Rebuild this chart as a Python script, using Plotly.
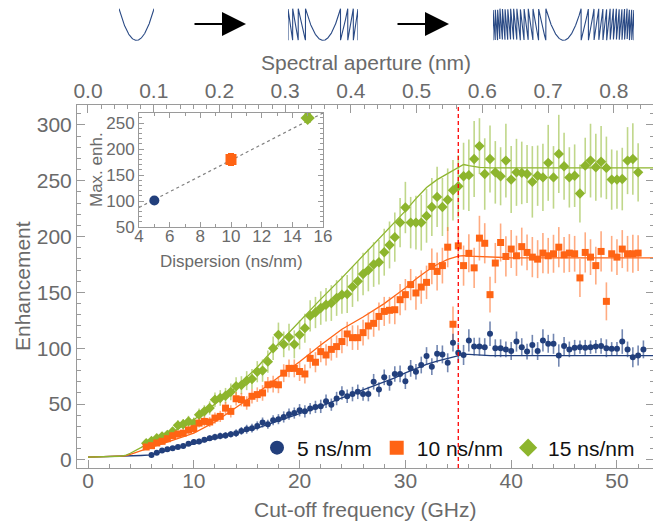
import plotly.graph_objects as go
import numpy as np

# ---------------- data ----------------
blue_x = [6.0, 6.5, 7.0, 7.5, 8.0, 8.5, 9.0, 9.5, 10.0, 10.5, 11.0, 11.5, 12.0, 12.5, 13.0, 13.5,
          14.0, 14.5, 15.0, 15.5, 16.0, 16.5, 17.0, 17.5, 18.0, 18.5, 19.0, 19.5, 20.0, 20.5, 21.0,
          21.5, 22.0, 22.5, 23.0, 23.5, 24.0, 24.5, 25.0, 25.5, 26.0, 26.5, 27.0, 27.5, 28.0, 28.5,
          29.0, 29.5, 30.0, 30.5, 31.0, 31.5, 32.0, 32.5, 33.0, 33.5, 34.0, 34.5, 35.0, 35.5, 36.0,
          36.5, 37.0, 37.5, 38.0, 38.5, 39.0, 39.5, 40.0, 40.5, 41.0, 41.5, 42.0, 42.5, 43.0, 43.5,
          44.0, 44.5, 45.0, 45.5, 46.0, 46.5, 47.0, 47.5, 48.0, 48.5, 49.0, 49.5, 50.0, 50.5, 51.0,
          51.5, 52.0, 52.5]
blue_y = [4.5, 6.5, 8.5, 9.5, 10.5, 11.5, 12.5, 14.5, 16, 16.5, 18, 19.5, 20.5, 21.5, 22, 23,
          24, 26, 27.5, 28.5, 30.5, 33.5, 32, 35.5, 36.5, 38.5, 41, 42, 44.5, 43.5, 46,
          47.5, 48, 52.5, 49.5, 55, 60, 57, 59, 61, 59, 59, 70, 63, 74, 69,
          77, 77, 70.5, 82, 79, 85, 93, 83.5, 95, 94.5, 87, 105, 96, 94, 107,
          101.5, 101.5, 101, 113, 100, 100, 99, 97.5, 106, 101, 97, 103, 97.5, 107, 104,
          104, 93.5, 102, 99, 100.5, 101, 100.5, 101, 101.5, 102, 100, 99.5, 99.5, 106, 99,
          92, 93.5, 99]
blue_err = [1.5, 1.5, 2, 2, 2, 2, 2, 2, 2.5, 2.5,
            2.5, 2.5, 3, 3, 3, 3, 3.5, 3.5, 4, 4,
            4, 4.5, 4, 4.5, 4.5, 5, 5, 5, 5.5, 5.5,
            5, 5.5, 6, 6, 5.5, 6, 6, 6, 6.5, 6.5,
            6, 6.5, 7, 6.5, 7, 7, 7, 7.5, 7, 7.5,
            7, 7.5, 8, 7.5, 8, 8, 8.5, 8, 9, 9,
            10, 8, 8, 8, 11, 8, 8, 7, 8, 9,
            8, 7, 9, 8, 10, 8, 9, 10, 8, 7,
            7, 6, 7, 6, 6, 7, 8, 6, 6, 11,
            7, 9, 9, 8]

orange_x = [5.5, 6.0, 6.5, 7.0, 7.5, 8.0, 8.5, 9.0, 9.5, 10.0, 10.5, 11.0, 11.5, 12.0, 12.5, 13.0,
            13.5, 14.0, 14.5, 15.0, 15.5, 16.0, 16.5, 17.0, 17.5, 18.0, 18.5, 19.0, 19.5, 20.0,
            20.5, 21.0, 21.5, 22.0, 22.5, 23.0, 23.5, 24.0, 24.5, 25.0, 25.5, 26.0, 26.5, 27.0,
            27.5, 28.0, 28.5, 29.0, 29.5, 30.0, 30.5, 31.0, 31.5, 32.0, 32.5, 33.0, 33.5, 34.0,
            34.5, 35.0, 35.5, 36.0, 36.5, 37.0, 37.5, 38.0, 38.5, 39.0, 39.5, 40.0, 40.5, 41.0,
            41.5, 42.0, 42.5, 43.0, 43.5, 44.0, 44.5, 45.0, 45.5, 46.0, 46.5, 47.0, 47.5, 48.0,
            48.5, 49.0, 49.5, 50.0, 50.5, 51.0, 51.5, 52.0]
orange_y = [11.6, 12.8, 15.2, 16.7, 19, 21.7, 23.2, 24, 26.8, 28, 33, 34.5, 34, 37.5, 39, 46.4,
            43.5, 54.8, 54, 51, 57, 58.5, 60, 67.3, 68, 67.3, 77.7, 82, 82, 79.2,
            77, 91, 87.5, 97, 94, 99, 101.5, 106, 112.8, 109.5, 109.5, 114, 120, 122.3,
            128.5, 133, 134, 134.5, 143.5, 148, 157, 149.5, 154.8, 159, 173.3, 168.8, 174, 190.5,
            121.5, 191.7, 174, 185, 172, 198.6, 194, 148, 176.3, 194.7, 182.2, 188.8, 182.8, 191,
            185.8, 181.6, 179.8, 185.2, 182.8, 184.6, 190.5, 183.7, 185.2, 184.6, 163, 185.8, 181.6, 174,
            186.7, 142, 184.6, 181.6, 188.8, 184.6, 184.6, 185.2]
orange_err = [2, 2, 2.5, 2.5, 3, 3, 3, 3.5, 3.5, 4,
              4, 4.5, 4.5, 5, 5, 5.5, 5.5, 6, 6, 6,
              6.5, 6.5, 7, 7, 7.5, 7.5, 8, 8, 8, 8.5,
              8.5, 9, 9, 9.5, 9.5, 10, 10, 10.5, 11, 11,
              11, 11.5, 12, 12, 12.5, 13, 12, 13, 14, 14,
              14, 15, 15, 15, 16, 17, 16, 18, 16, 17,
              18, 17, 18, 20, 18, 16, 18, 17, 18, 17,
              18, 17, 16, 18, 17, 18, 16, 17, 18, 16,
              17, 16, 17, 18, 16, 17, 18, 17, 16, 16,
              17, 16, 17, 16]

green_x = [5.5, 6.0, 6.5, 7.0, 7.5, 8.0, 8.5, 9.0, 9.5, 10.0, 10.5, 11.0, 11.5, 12.0, 12.5, 13.0,
           13.5, 14.0, 14.5, 15.0, 15.5, 16.0, 16.5, 17.0, 17.5, 18.0, 18.5, 19.0, 19.5, 20.0,
           20.5, 21.0, 21.5, 22.0, 22.5, 23.0, 23.5, 24.0, 24.5, 25.0, 25.5, 26.0, 26.5, 27.0,
           27.5, 28.0, 28.5, 29.0, 29.5, 30.0, 30.5, 31.0, 31.5, 32.0, 32.5, 33.0, 33.5, 34.0,
           34.5, 35.0, 35.5, 36.0, 36.5, 37.0, 37.5, 38.0, 38.5, 39.0, 39.5, 40.0, 40.5, 41.0,
           41.5, 42.0, 42.5, 43.0, 43.5, 44.0, 44.5, 45.0, 45.5, 46.0, 46.5, 47.0, 47.5, 48.0,
           48.5, 49.0, 49.5, 50.0, 50.5, 51.0, 51.5, 52.0]
green_y = [15, 17, 19.5, 21, 22.5, 25.5, 31, 32, 34.5, 33, 40.5, 43.5, 46.5, 54, 55.5, 57.5,
           61, 66, 67, 71, 72.5, 79, 80, 88, 100, 112, 103.5, 110, 103.5, 112,
           118, 129, 132, 136, 139, 140.5, 145, 148, 148.5, 155, 160, 166.5, 170, 175,
           177, 186, 192.5, 199.5, 212.5, 226, 212.5, 212.5, 212.5, 218.5, 226.5, 235.5, 226.5, 233,
           241.5, 245, 254, 255, 269.5, 281, 256, 269.5, 257.5, 254, 268, 251, 257.5, 257,
           256, 249, 254.5, 253, 266, 253, 274, 263, 253, 254.5, 238.5, 263.5, 268, 262,
           267, 261.5, 251, 251, 251.5, 268, 269.5, 257.5]
green_err = [3, 3, 3.5, 3.5, 4, 4, 4.5, 4.5, 5, 5,
             5.5, 5.5, 6, 6.5, 7, 7, 7.5, 8, 8, 8.5,
             9, 9.5, 10, 10, 10.5, 11, 11.5, 12, 12.5, 13,
             13, 14, 14, 15, 15, 16, 16, 17, 17, 18,
             18, 19, 19, 20, 20, 21, 21, 22, 22, 23,
             23, 24, 25, 24, 26, 27, 26, 28, 27, 28,
             30, 32, 34, 25, 32, 30, 28, 26, 33, 30,
             30, 28, 26, 32, 27, 30, 34, 28, 35, 30,
             27, 28, 26, 25, 33, 30, 32, 28, 27, 26,
             28, 30, 32, 26]

# theory curves
line_x = [0, 1, 2, 3, 3.5, 4, 5, 6, 7, 8, 10, 12, 14, 16, 18, 20, 22, 24, 26, 28, 29, 30, 31,
          32, 33, 34, 35, 35.5, 36, 37, 38, 40, 45, 50, 53.5]
blue_line = [2.5, 2.7, 3, 3.3, 3.5, 3.7, 4, 4.5, 7.5, 10, 14.5, 19, 23.5, 28.5, 35, 41.5, 48,
             55.5, 62.5, 69.5, 73.5, 78, 82, 85.5, 88.5, 91, 93.5, 94.5, 94.5, 94, 93.5, 93.5,
             93.5, 93.5, 93.5]
orange_line = [2.5, 2.7, 3, 3.3, 3.6, 5, 8.5, 11.5, 14.5, 17.5, 24, 34, 47, 60, 74, 88, 103,
               117, 128, 140, 147, 154, 162, 169, 175, 179.5, 182.5, 183, 182.5, 182, 181.5,
               181, 181, 181, 181]
green_line = [2.5, 2.7, 3, 3.3, 4, 6, 11, 16.5, 21, 25, 36, 50, 65, 83, 104, 124, 144, 163,
              183, 203, 213, 223, 234, 244, 251, 256.5, 261.5, 264.5, 263.5, 262, 261.5, 261.5,
              261.5, 261.5, 261.5]

cutoff_ghz = 35

# inset
disp = [5, 10, 15]
max_enh = [101, 180, 260]
max_err = [4, 11, 8]
fit_x = [4, 16]
fit_y = [87.5, 269.5]

legend_names = ["5 ns/nm", "10 ns/nm", "15 ns/nm"]

# ---------------- style ----------------
BLUE = "#223f7c"
ORANGE = "#ff6414"
GREEN = "#8db52d"
BLUE_E = "rgba(40,70,135,0.65)"
ORANGE_E = "rgba(255,115,45,0.6)"
GREEN_E = "rgba(150,188,60,0.6)"
FRAME = "#9a9a9a"
TXT = "#6a6a6a"
FONT = "Liberation Sans"

# page body has an 8px margin: figure is drawn 8px right/down of the window origin
OFF = 8
W, H = 661 - OFF, 521 - OFF
ML, MR, MT, MB = 77 - OFF, 7, 0, 53
PW = W - ML - MR      # 577
PH = H - MT - MB      # 460


def px(x):   # reference-window x pixel -> paper fraction
    return (x - OFF - ML) / PW


def py(y):   # reference-window y pixel -> paper fraction
    return (PH + MT - (y - OFF)) / PH


fig = go.Figure()

# theory lines
for ly, c in [(blue_line, BLUE), (orange_line, ORANGE), (green_line, GREEN)]:
    fig.add_trace(go.Scatter(x=line_x, y=ly, mode="lines", line=dict(color=c, width=1.3),
                             showlegend=False, hoverinfo="skip"))

# data points
for xs, ys, es, c, ec, sym, sz in [
    (green_x, green_y, green_err, GREEN, GREEN_E, "diamond", 8),
    (orange_x, orange_y, orange_err, ORANGE, ORANGE_E, "square", 7),
    (blue_x, blue_y, blue_err, BLUE, BLUE_E, "circle", 6),
]:
    fig.add_trace(go.Scatter(x=xs, y=ys, mode="markers",
                             marker=dict(color=c, symbol=sym, size=sz, line=dict(width=0)),
                             error_y=dict(type="data", array=es, color=ec, thickness=1.6, width=0),
                             showlegend=False))

# legend-only entries
for name, c, sym in [(legend_names[0], BLUE, "circle"), (legend_names[1], ORANGE, "square"),
                     (legend_names[2], GREEN, "diamond")]:
    fig.add_trace(go.Scatter(x=[None], y=[None], mode="markers", name=name,
                             marker=dict(color=c, symbol=sym, size=14, line=dict(width=0))))

# invisible trace for top axis
fig.add_trace(go.Scatter(x=[0], y=[0], xaxis="x2", yaxis="y", mode="lines",
                         showlegend=False, hoverinfo="skip"))

# inset
fig.add_trace(go.Scatter(x=fit_x, y=fit_y, mode="lines", xaxis="x3", yaxis="y3",
                         line=dict(color="#808080", width=1.2, dash="3px,3px"), showlegend=False))
for i, (c, sym, sz) in enumerate([(BLUE, "circle", 10), (ORANGE, "square", 11), (GREEN, "diamond", 11)]):
    fig.add_trace(go.Scatter(x=[disp[i]], y=[max_enh[i]], mode="markers", xaxis="x3", yaxis="y3",
                             marker=dict(color=c, symbol=sym, size=sz, line=dict(width=0)),
                             error_y=dict(type="data", array=[max_err[i]], color=c, thickness=1.5, width=3),
                             showlegend=False))

# icons (schematic quadratic phase, wrapped)
ICON = "#2a4a85"
icon_half = [1.0, 2.0, 4.0]
for k, a in enumerate(icon_half):
    t = np.linspace(-a, a, 1400 if k > 0 else 200)
    v = np.where(np.abs(t) <= 1, t ** 2, np.mod(t ** 2, 1.0))
    fig.add_trace(go.Scatter(x=t, y=v, mode="lines", xaxis=f"x{k+4}", yaxis=f"y{k+4}",
                             line=dict(color=ICON, width=1.1), showlegend=False, hoverinfo="skip"))

axis_common = dict(showgrid=False, zeroline=False, showline=True, linecolor=FRAME, linewidth=1,
                   ticks="inside", tickcolor=FRAME, tickwidth=1, automargin=False,
                   tickfont=dict(family=FONT, size=21, color=TXT))
inset_font = dict(family=FONT, size=17, color=TXT)

fig.update_layout(
    width=W, height=H,
    margin=dict(l=ML, r=MR, t=MT, b=MB),
    paper_bgcolor="white", plot_bgcolor="white",
    font=dict(family=FONT, color=TXT),
    xaxis=dict(domain=[0, 1], range=[-1.04, 53.5], tickvals=[0, 10, 20, 30, 40, 50], ticklen=8,
               minor=dict(ticks="inside", dtick=2, ticklen=4, tickcolor=FRAME), anchor="y",
               ticklabelstandoff=-6, **axis_common),
    xaxis2=dict(overlaying="x", side="top", anchor="y", range=[-0.0167, 0.861],
                tickvals=[0, 0.1, 0.2, 0.3, 0.4, 0.5, 0.6, 0.7, 0.8], tickformat=".1f", ticklen=8,
                minor=dict(ticks="inside", dtick=0.02, ticklen=4, tickcolor=FRAME),
                ticklabelstandoff=-2, **axis_common),
    yaxis=dict(domain=[0, py(105)], range=[-7.2, 317.8], tickvals=[0, 50, 100, 150, 200, 250, 300],
               ticklen=8, mirror="ticks", anchor="x",
               minor=dict(ticks="inside", dtick=10, ticklen=4, tickcolor=FRAME), **axis_common),
    xaxis3=dict(domain=[px(139), px(323)], range=[4, 16], tickvals=[4, 6, 8, 10, 12, 14, 16],
                anchor="y3", mirror="ticks", ticklen=5, ticklabelstandoff=-6,
                minor=dict(ticks="inside", dtick=1, ticklen=3, tickcolor=FRAME),
                **{**axis_common, "tickfont": inset_font}),
    yaxis3=dict(domain=[py(227), py(113)], range=[50, 269.5], tickvals=[50, 100, 150, 200, 250],
                anchor="x3", mirror="ticks", ticklen=5,
                minor=dict(ticks="inside", dtick=10, ticklen=3, tickcolor=FRAME),
                **{**axis_common, "tickfont": inset_font}),
    legend=dict(orientation="h", x=px(640), xanchor="right", y=py(448), yanchor="middle",
                bgcolor="rgba(0,0,0,0)", font=dict(family=FONT, size=21, color="#111111"),
                itemwidth=30, tracegroupgap=0),
    showlegend=True,
)

icon_dom = [(119, 154), (288, 358), (493, 634)]
for k, (a, b) in enumerate(icon_dom):
    fig.layout[f"xaxis{k+4}"] = dict(domain=[px(a), px(b)], visible=False, anchor=f"y{k+4}",
                                     range=[-icon_half[k], icon_half[k]])
    fig.layout[f"yaxis{k+4}"] = dict(domain=[py(41), py(8)], visible=False, anchor=f"x{k+4}",
                                     range=[-0.02, 1.02])

# red cut-off line
fig.add_shape(type="line", x0=cutoff_ghz, x1=cutoff_ghz, xref="x", yref="y domain", y0=0, y1=1,
              line=dict(color="red", width=1.3, dash="4px,3px"))

# arrows
for tail, tip in [(193, 246), (396, 449)]:
    fig.add_annotation(x=px(tip), y=py(24), xref="paper", yref="paper", ax=tail - tip, ay=0,
                       axref="pixel", ayref="pixel", showarrow=True, arrowhead=2, arrowsize=2.4,
                       arrowwidth=2, arrowcolor="black", text="")

# titles
titles = [
    ("Enhancement", px(22), py(286), -90, 21),
    ("Cut-off frequency (GHz)", 0.5, py(509), 0, 21),
    ("Spectral aperture (nm)", 0.5, py(63), 0, 21),
    ("Dispersion (ns/nm)", px(231), py(262), 0, 17),
    ("Max. enh.", px(97), py(170), -90, 17),
]
for txt, x, y, ang, sz in titles:
    fig.add_annotation(x=x, y=y, xref="paper", yref="paper", text=txt, showarrow=False,
                       textangle=ang, xanchor="center", yanchor="middle",
                       font=dict(family=FONT, size=sz, color=TXT))

fig.write_html("out.html")
